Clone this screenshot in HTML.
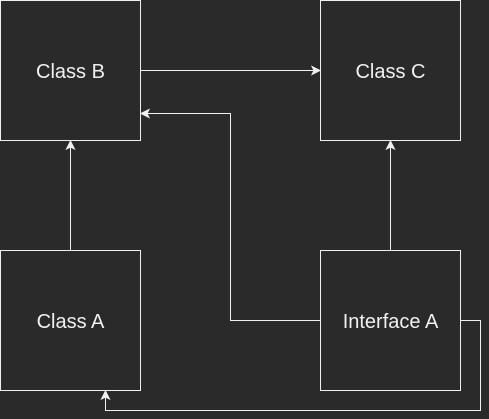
<!DOCTYPE html>
<html><head><style>
html,body{margin:0;padding:0;background:#2a2a2a;}
svg{display:block;}
text{font-family:"Liberation Sans",sans-serif;font-size:20px;fill:#f0f0f0;}
</style></head><body>
<svg width="489" height="419" viewBox="0 0 489 419" xmlns="http://www.w3.org/2000/svg">
<rect width="489" height="419" fill="#2a2a2a"/>
<g fill="#2a2a2a" stroke="#f0f0f0" stroke-width="1">
<rect x="0.5" y="0.5" width="140" height="140"/>
<rect x="320.5" y="0.5" width="140" height="140"/>
<rect x="0.5" y="250.5" width="140" height="140"/>
<rect x="320.5" y="250.5" width="140" height="140"/>
</g>
<g fill="none" stroke="#f0f0f0" stroke-width="1">
<path d="M140.5 70.5 H314"/>
<path d="M70.5 250.5 V147"/>
<path d="M390.5 250.5 V147"/>
<path d="M320.5 320.5 H230.5 V113.5 H147"/>
<path d="M460.5 320.5 H480.5 V410.5 H105.5 V397"/>
</g>
<g fill="#f0f0f0" stroke="#f0f0f0" stroke-width="1">
<path d="M320 70.5 L312 66.5 L314 70.5 L312 74.5 Z"/>
<path d="M70.5 141 L66.5 149 L70.5 147 L74.5 149 Z"/>
<path d="M390.5 141 L386.5 149 L390.5 147 L394.5 149 Z"/>
<path d="M141 113.5 L149 109.5 L147 113.5 L149 117.5 Z"/>
<path d="M105.5 391 L101.5 399 L105.5 397 L109.5 399 Z"/>
</g>
<text x="70.5" y="78" text-anchor="middle">Class B</text>
<text x="390.5" y="78" text-anchor="middle">Class C</text>
<text x="70.5" y="328" text-anchor="middle">Class A</text>
<text x="390.5" y="328" text-anchor="middle">Interface A</text>
</svg>
</body></html>
